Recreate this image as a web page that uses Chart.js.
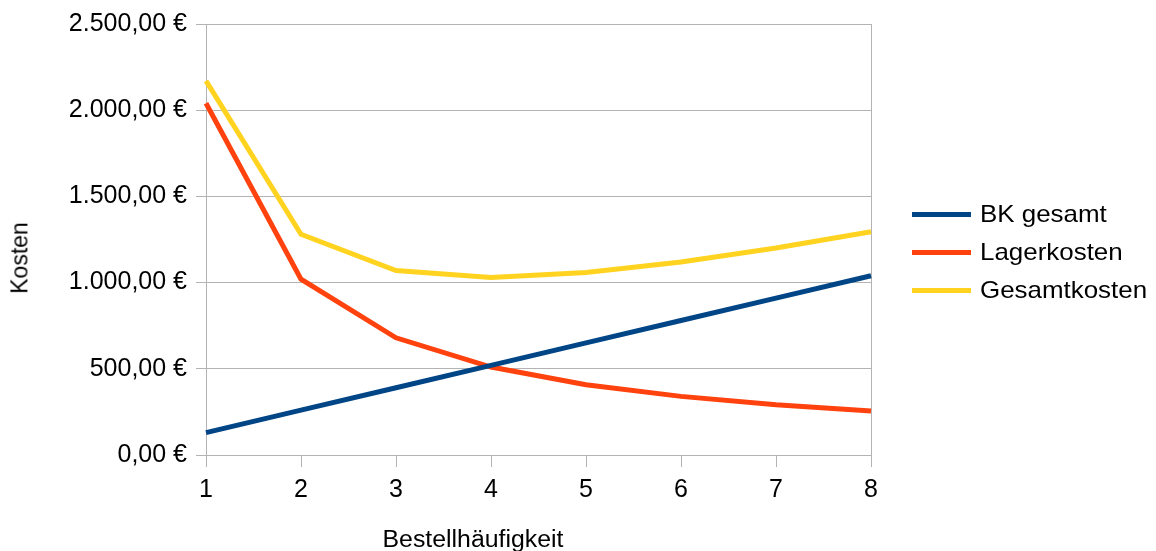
<!DOCTYPE html>
<html>
<head>
<meta charset="utf-8">
<script src="https://cdn.jsdelivr.net/npm/chart.js@4/dist/chart.umd.min.js"></script>
<style>
    body { margin: 0; background: #fff; }
    #wrap { position: relative; width: 1156px; height: 551px; font-family: "Liberation Sans", Arial, sans-serif; color: #000; }
    #costChart { position: absolute; left: 0; top: 0; }
    .axisTitle { position: absolute; font-size: 23px; white-space: nowrap; }
    #yTitle { left: 19px; top: 258px; transform: translate(-50%, -50%) scaleX(1.08) rotate(-90deg); }
    #xTitle { left: 473px; top: 539px; transform: translate(-50%, -50%) scaleX(1.08); }
    #legend { position: absolute; left: 912px; top: 195px; }
    .legendItem { height: 38px; display: flex; align-items: center; font-size: 24px; white-space: nowrap; }
    .legendLine { width: 59px; height: 5px; margin-right: 9px; }
    .legendText { display: inline-block; transform: scaleX(1.08); transform-origin: left center; }
</style>
</head>
<body>
<div id="wrap">
    <canvas id="costChart" width="1156" height="551"></canvas>
    <div class="axisTitle" id="yTitle">Kosten</div>
    <div class="axisTitle" id="xTitle">Bestellhäufigkeit</div>
    <div id="legend"></div>
</div>
<script>
// values
const orderCounts = ['1', '2', '3', '4', '5', '6', '7', '8'];
const bkGesamt = [130, 260, 390, 520, 650, 780, 910, 1040];
const lagerkosten = [2040, 1020, 680, 510, 408, 340, 291, 255];
const gesamtkosten = [2170, 1280, 1070, 1030, 1058, 1120, 1201, 1295];
const yTickLabels = ['0,00 €', '500,00 €', '1.000,00 €', '1.500,00 €', '2.000,00 €', '2.500,00 €'];

const seriesNames = ['BK gesamt', 'Lagerkosten', 'Gesamtkosten'];
const seriesColors = ['#004586', '#ff420e', '#ffd320'];
const gridColor = '#b3b3b3';
const fontFamily = '"Liberation Sans", Arial, sans-serif';

function makeDataset(i, values) {
    return {
        label: seriesNames[i],
        data: values,
        borderColor: seriesColors[i],
        backgroundColor: seriesColors[i],
        borderWidth: 5,
        pointRadius: 0,
        tension: 0,
        fill: false
    };
}

const data = {
    labels: orderCounts,
    datasets: [
        makeDataset(0, bkGesamt),
        makeDataset(1, lagerkosten),
        makeDataset(2, gesamtkosten)
    ]
};

const config = {
    type: 'line',
    data: data,
    options: {
        responsive: false,
        animation: false,
        layout: {
            padding: { left: 0, right: 285, top: 23, bottom: 0 }
        },
        plugins: {
            legend: { display: false },
            tooltip: { enabled: false }
        },
        scales: {
            x: {
                offset: false,
                grid: {
                    drawOnChartArea: false,
                    drawTicks: true,
                    tickLength: 12,
                    color: gridColor,
                    lineWidth: 1
                },
                border: { display: true, color: gridColor, width: 1 },
                ticks: {
                    color: '#000',
                    padding: 8,
                    maxRotation: 0,
                    font: { family: fontFamily, size: 25 }
                },
                afterFit: function(scale) {
                    scale.height = 96;
                }
            },
            y: {
                min: 0,
                max: 2500,
                ticks: {
                    stepSize: 500,
                    color: '#000',
                    padding: 9,
                    font: { family: fontFamily, size: 25 },
                    callback: function(value) {
                        return yTickLabels[Math.round(value / 500)];
                    }
                },
                grid: {
                    color: gridColor,
                    lineWidth: 1,
                    drawTicks: true,
                    tickLength: 10
                },
                border: { display: true, color: gridColor, width: 1 },
                afterFit: function(scale) {
                    scale.width = 206;
                }
            },
            yRight: {
                position: 'right',
                min: 0,
                max: 2500,
                ticks: { display: false },
                grid: { display: false },
                border: { display: true, color: gridColor, width: 1 },
                afterFit: function(scale) {
                    scale.width = 0;
                }
            }
        }
    }
};

const costChart = new Chart(document.getElementById('costChart'), config);

// legend built from the chart's datasets
const legendBox = document.getElementById('legend');
costChart.data.datasets.forEach(function(ds) {
    const item = document.createElement('div');
    item.className = 'legendItem';
    const line = document.createElement('span');
    line.className = 'legendLine';
    line.style.background = ds.borderColor;
    const text = document.createElement('span');
    text.className = 'legendText';
    text.textContent = ds.label;
    item.appendChild(line);
    item.appendChild(text);
    legendBox.appendChild(item);
});
</script>
</body>
</html>
